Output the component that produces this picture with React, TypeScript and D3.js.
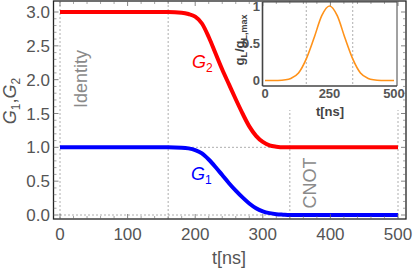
import React from "react";
import * as d3 from "d3";

const tValues = [0, 100, 160, 180, 190, 200, 210, 220, 230, 240, 250, 260, 270, 280, 290, 300, 310, 320, 330, 340, 400, 500];
const g2Values = [3, 3, 3, 2.99, 2.97, 2.93, 2.83, 2.63, 2.39, 2.15, 1.93, 1.71, 1.5, 1.31, 1.17, 1.08, 1.03, 1.01, 1.0, 1.0, 1.0, 1.0];
const g1Values = [1, 1, 1, 0.995, 0.985, 0.96, 0.91, 0.82, 0.71, 0.59, 0.47, 0.36, 0.26, 0.17, 0.1, 0.055, 0.028, 0.012, 0.005, 0.0, 0.0, 0.0];

const insetT = [0, 50, 80, 100, 130, 160, 190, 220, 250, 280, 310, 340, 370, 400, 420, 450, 500];
const insetG = [0, 0.001, 0.01, 0.028, 0.1, 0.29, 0.57, 0.87, 1, 0.87, 0.57, 0.29, 0.1, 0.028, 0.01, 0.001, 0];

const xTicks = [0, 100, 200, 300, 400, 500];
const yTicks = [0, 0.5, 1, 1.5, 2, 2.5, 3];
const insetXTicks = [0, 250, 500];
const insetYTicks = [0, 0.5, 1];
const insetYLabels = ["0", "0.5", "1"];
const guideT = [0, 160, 340, 500];
const guideG = [0, 1];
const insetGuideT = [160, 340];

const FONT = "'Liberation Sans', Arial, sans-serif";

export default function App() {
  const x = d3.scaleLinear().domain([0, 500]).range([60, 398]);
  const y = d3.scaleLinear().domain([0, 3]).range([215, 12]);
  const L = 53.5, R = 406, T = 1, B = 219;

  const xi = d3.scaleLinear().domain([0, 500]).range([265, 394]);
  const yi = d3.scaleLinear().domain([0, 1]).range([80.5, 6]);
  const iL = 262.5, iR = 397, iT = 2, iB = 86;

  const line = (vals: number[]) =>
    d3.line<number>().x((_, i) => x(tValues[i])).y((d) => y(d)).curve(d3.curveMonotoneX)(vals) || "";
  const insetLine =
    d3.line<number>().x((_, i) => xi(insetT[i])).y((d) => yi(d)).curve(d3.curveMonotoneX)(insetG) || "";

  const xMinor = d3.range(0, 501, 20).filter((v) => v % 100 !== 0);
  const yMinor = d3.range(0, 31, 1).map((v) => v / 10).filter((v) => Math.round(v * 10) % 5 !== 0);

  const tickColor = "#666";
  const labelColor = "#555";

  return (
    <svg width={415} height={271} style={{ position: "absolute", left: 0, top: 0 }} fontFamily={FONT}>
      <rect x={0} y={0} width={415} height={271} fill="white" />
      {/* guides */}
      {guideT.map((t) => (
        <line key={"gt" + t} x1={x(t)} x2={x(t)} y1={T} y2={B} stroke="#999" strokeWidth={0.8} strokeDasharray="2,2" />
      ))}
      {guideG.map((g) => (
        <line key={"gg" + g} x1={x(0)} x2={x(500)} y1={y(g)} y2={y(g)} stroke="#999" strokeWidth={0.8} strokeDasharray="2,2" />
      ))}
      {/* inset background */}
      <rect x={248} y={2} width={152} height={108} fill="white" />
      {/* curves */}
      <path d={line(g2Values)} fill="none" stroke="#ff0000" strokeWidth={4} />
      <path d={line(g1Values)} fill="none" stroke="#0000ff" strokeWidth={4} />
      {/* rotated gate labels */}
      <text transform={`translate(87,79) rotate(-90)`} textAnchor="middle" fontSize={18} fill="#8a8a8a">Identity</text>
      <text transform={`translate(316,183) rotate(-90)`} textAnchor="middle" fontSize={18} fill="#8a8a8a">CNOT</text>
      {/* curve labels */}
      <text x={192} y={68} fontSize={18} fill="#ff0000" fontStyle="italic">G<tspan fontSize={12} fontStyle="normal" dy={4}>2</tspan></text>
      <text x={191} y={180} fontSize={18} fill="#0000ff" fontStyle="italic">G<tspan fontSize={12} fontStyle="normal" dy={4}>1</tspan></text>
      {/* frame */}
      <rect x={L} y={T} width={R - L} height={B - T} fill="none" stroke="#222" strokeWidth={1.3} />
      {/* ticks */}
      {xTicks.map((t) => (
        <g key={"xt" + t}>
          <line x1={x(t)} x2={x(t)} y1={B} y2={B - 5} stroke={tickColor} strokeWidth={0.8} />
          <line x1={x(t)} x2={x(t)} y1={T} y2={T + 5} stroke={tickColor} strokeWidth={0.8} />
          <text x={x(t)} y={240} textAnchor="middle" fontSize={17} fill={labelColor}>{t}</text>
        </g>
      ))}
      {xMinor.map((t) => (
        <g key={"xm" + t}>
          <line x1={x(t)} x2={x(t)} y1={B} y2={B - 3} stroke={tickColor} strokeWidth={0.6} />
          <line x1={x(t)} x2={x(t)} y1={T} y2={T + 3} stroke={tickColor} strokeWidth={0.6} />
        </g>
      ))}
      {yTicks.map((g) => (
        <g key={"yt" + g}>
          <line x1={L} x2={L + 5} y1={y(g)} y2={y(g)} stroke={tickColor} strokeWidth={0.8} />
          <line x1={R} x2={R - 5} y1={y(g)} y2={y(g)} stroke={tickColor} strokeWidth={0.8} />
          <text x={50} y={y(g) + 6} textAnchor="end" fontSize={17} fill={labelColor}>{g.toFixed(1)}</text>
        </g>
      ))}
      {yMinor.map((g) => (
        <g key={"ym" + g}>
          <line x1={L} x2={L + 3} y1={y(g)} y2={y(g)} stroke={tickColor} strokeWidth={0.6} />
          <line x1={R} x2={R - 3} y1={y(g)} y2={y(g)} stroke={tickColor} strokeWidth={0.6} />
        </g>
      ))}
      {/* axis labels */}
      <text x={229} y={264} textAnchor="middle" fontSize={18} fill={labelColor}>t[ns]</text>
      <text transform={`translate(16,101) rotate(-90)`} textAnchor="middle" fontSize={18} fill={labelColor}>
        <tspan fontStyle="italic">G</tspan><tspan fontSize={12} dy={4}>1</tspan><tspan dy={-4}>,</tspan>
        <tspan fontStyle="italic">G</tspan><tspan fontSize={12} dy={4}>2</tspan>
      </text>
      {/* inset */}
      {insetGuideT.map((t) => (
        <line key={"ig" + t} x1={xi(t)} x2={xi(t)} y1={iT} y2={iB} stroke="#999" strokeWidth={0.8} strokeDasharray="2,2" />
      ))}
      <path d={insetLine} fill="none" stroke="#ff9219" strokeWidth={1.6} />
      <line x1={iL} x2={iR} y1={iT} y2={iT} stroke="#444" strokeWidth={1} />
      <line x1={iR} x2={iR} y1={iT} y2={iB} stroke="#444" strokeWidth={1} />
      <line x1={iL} x2={iL} y1={iT} y2={iB} stroke="#444" strokeWidth={1.6} />
      <line x1={iL} x2={iR} y1={iB} y2={iB} stroke="#444" strokeWidth={1.6} />
      {insetXTicks.map((t) => (
        <text key={"ixt" + t} x={xi(t)} y={98} textAnchor="middle" fontSize={13} fontWeight="bold" fill="#555">{t}</text>
      ))}
      {insetYTicks.map((g, i) => (
        <text key={"iyt" + g} x={260} y={yi(g) + 4.5} textAnchor="end" fontSize={13} fontWeight="bold" fill="#555">{insetYLabels[i]}</text>
      ))}
      <text x={330} y={116} textAnchor="middle" fontSize={13} fontWeight="bold" fill="#444">t[ns]</text>
      <text transform={`translate(244,40) rotate(-90)`} textAnchor="middle" fontSize={13} fontWeight="bold" fill="#444">
        g<tspan fontSize={9} dy={3}>L</tspan><tspan dy={-3}>/g</tspan><tspan fontSize={9} dy={3}>L,max</tspan>
      </text>
    </svg>
  );
}
